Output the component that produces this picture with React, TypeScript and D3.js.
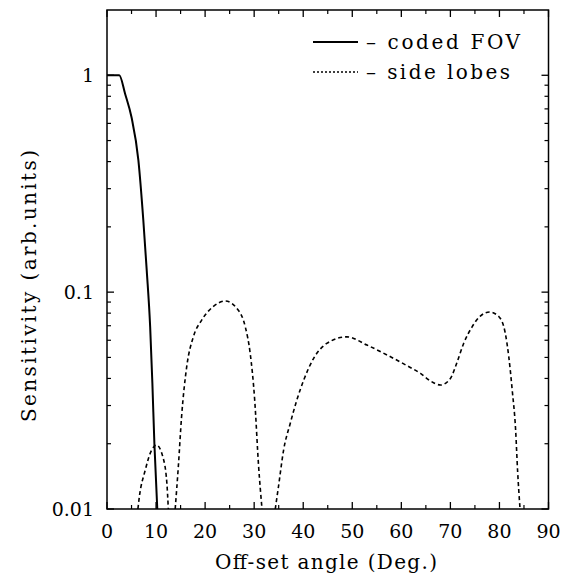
import React from "react";
import * as d3 from "d3";

const xTicksMajor = [0, 10, 20, 30, 40, 50, 60, 70, 80, 90];
const xTicksMinor = [5, 15, 25, 35, 45, 55, 65, 75, 85];
const yTickLabels = [
  { v: 1, label: "1" },
  { v: 0.1, label: "0.1" },
  { v: 0.01, label: "0.01" },
];
const yMinorMultipliers = [2, 3, 4, 5, 6, 7, 8, 9];
const yMinorDecades = [0.01, 0.1];

const codedFov: [number, number][] = [
  [0, 1], [2.5, 1], [3.7, 0.82], [5, 0.64], [6.4, 0.405],
  [7.4, 0.215], [8.1, 0.126], [8.8, 0.069], [9.25, 0.038], [9.66, 0.02], [10.25, 0.01],
];
const lobe1: [number, number][] = [
  [6.3, 0.01], [6.6, 0.0114], [7.76, 0.015], [9, 0.0185], [10.1, 0.0197],
  [11.35, 0.0175], [12.2, 0.0132], [12.5, 0.01],
];
const lobe2: [number, number][] = [
  [13.9, 0.01], [14.55, 0.0158], [15.2, 0.0266], [16.25, 0.0453], [17.6, 0.0622],
  [19.3, 0.0743], [21.7, 0.086], [24.1, 0.091], [26.5, 0.084], [28.2, 0.069],
  [29.2, 0.052], [30.1, 0.032], [30.9, 0.0158], [31.6, 0.01],
];
const lobe3: [number, number][] = [
  [34.3, 0.01], [34.96, 0.0127], [36, 0.0187], [37.35, 0.0248], [38.7, 0.0318],
  [40.1, 0.0393], [42.1, 0.0494], [44.8, 0.058], [48.9, 0.0622], [53, 0.057],
  [57.1, 0.0513], [61, 0.046], [63.9, 0.0422], [65.9, 0.039], [68, 0.0373],
  [70, 0.04], [71.4, 0.0478], [72.7, 0.058], [74.4, 0.069], [76.1, 0.0776],
  [78, 0.081], [79.9, 0.077], [81.2, 0.0645], [81.9, 0.0504], [82.6, 0.0354],
  [83.3, 0.0231], [83.7, 0.015], [84.2, 0.01],
];
const sideLobes = [lobe1, lobe2, lobe3];
const legendItems = [
  { label: "\u2013 coded FOV", dash: "none", len: 154 },
  { label: "\u2013 side lobes", dash: "2,2", len: 144 },
];

const W = 570;
const H = 579;
const L = 107, R = 548.5, T = 10, B = 509;
const FONT = "'DejaVu Serif', serif";

export default function App() {
  const x = d3.scaleLinear().domain([0, 90]).range([L, R]);
  const y = d3.scaleLog().domain([0.01, 2]).range([B, T]);
  const line = d3
    .line<[number, number]>()
    .x((d) => x(d[0]))
    .y((d) => y(d[1]))
    .curve(d3.curveMonotoneX);

  const minorY: number[] = [];
  yMinorDecades.forEach((d) => yMinorMultipliers.forEach((m) => minorY.push(d * m)));

  return (
    <svg
      width={W}
      height={H}
      style={{ position: "absolute", left: 0, top: 0, background: "#fff" }}
    >
      <rect x={0} y={0} width={W} height={H} fill="#fff" />
      <path d={line(codedFov) || ""} fill="none" stroke="#000" strokeWidth={2} />
      {sideLobes.map((l, i) => (
        <path
          key={i}
          d={line(l) || ""}
          fill="none"
          stroke="#000"
          strokeWidth={1.6}
          strokeDasharray="4,3"
        />
      ))}
      <rect x={L} y={T} width={R - L} height={B - T} fill="none" stroke="#000" strokeWidth={1.5} />
      {xTicksMajor.map((t) => (
        <g key={"xm" + t}>
          <line x1={x(t)} x2={x(t)} y1={B} y2={B - 7} stroke="#000" strokeWidth={1.3} />
          <line x1={x(t)} x2={x(t)} y1={T} y2={T + 7} stroke="#000" strokeWidth={1.3} />
          <text x={x(t)} y={538} textAnchor="middle" fontFamily={FONT} fontSize={19}>
            {t}
          </text>
        </g>
      ))}
      {xTicksMinor.map((t) => (
        <g key={"xn" + t}>
          <line x1={x(t)} x2={x(t)} y1={B} y2={B - 4} stroke="#000" strokeWidth={1.2} />
          <line x1={x(t)} x2={x(t)} y1={T} y2={T + 4} stroke="#000" strokeWidth={1.2} />
        </g>
      ))}
      {yTickLabels.map((t) => (
        <g key={"ym" + t.v}>
          <line x1={L} x2={L + 7} y1={y(t.v)} y2={y(t.v)} stroke="#000" strokeWidth={1.3} />
          <line x1={R} x2={R - 7} y1={y(t.v)} y2={y(t.v)} stroke="#000" strokeWidth={1.3} />
          <text
            x={94}
            y={y(t.v)}
            dy="0.36em"
            textAnchor="end"
            fontFamily={FONT}
            fontSize={19}
          >
            {t.label}
          </text>
        </g>
      ))}
      {minorY.map((v) => (
        <g key={"yn" + v}>
          <line x1={L} x2={L + 4} y1={y(v)} y2={y(v)} stroke="#000" strokeWidth={1.2} />
          <line x1={R} x2={R - 4} y1={y(v)} y2={y(v)} stroke="#000" strokeWidth={1.2} />
        </g>
      ))}
      <text
        x={215}
        y={569}
        fontFamily={FONT}
        fontSize={20}
        textLength={222}
        lengthAdjust="spacing"
      >
        Off-set angle (Deg.)
      </text>
      <text
        transform={`translate(36,422) rotate(-90)`}
        fontFamily={FONT}
        fontSize={20}
        textLength={272}
        lengthAdjust="spacing"
      >
        Sensitivity (arb.units)
      </text>
      {legendItems.map((it, i) => (
        <g key={it.label} transform={`translate(0,${42 + i * 30})`}>
          <line
            x1={313}
            x2={358}
            y1={0}
            y2={0}
            stroke="#000"
            strokeWidth={it.dash === "none" ? 1.8 : 1.4}
            strokeDasharray={it.dash === "none" ? undefined : it.dash}
          />
          <text
            x={366}
            y={0}
            dy="0.36em"
            fontFamily={FONT}
            fontSize={20}
            textLength={it.len}
            lengthAdjust="spacing"
          >
            {it.label}
          </text>
        </g>
      ))}
    </svg>
  );
}
